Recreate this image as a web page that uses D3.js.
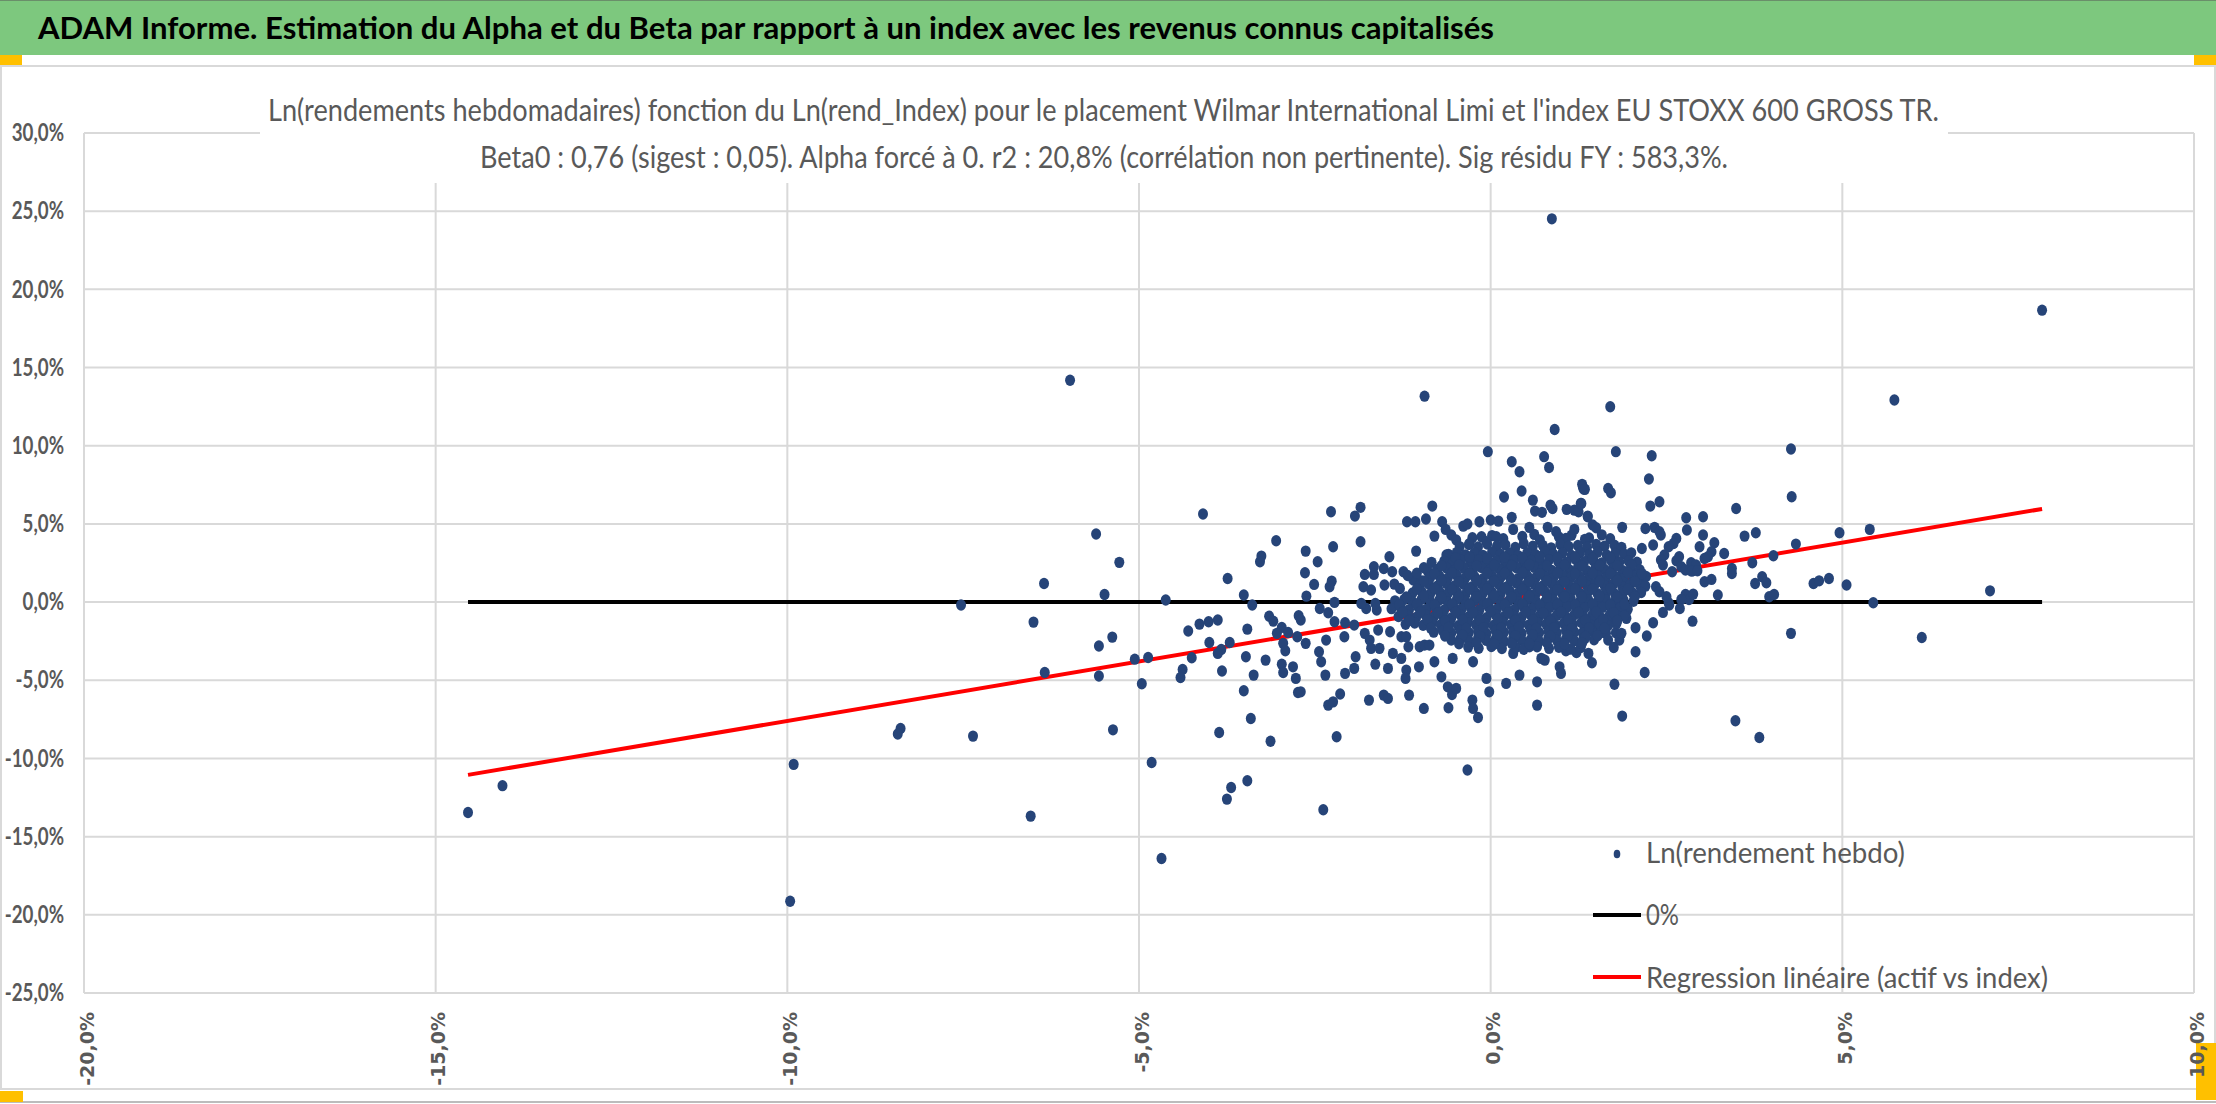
<!DOCTYPE html>
<html><head><meta charset="utf-8">
<script src="https://cdn.jsdelivr.net/npm/d3@7"></script>
<style>html,body{margin:0;padding:0;background:#fff;overflow:hidden}svg{display:block}</style>
</head><body><svg id="c" width="2216" height="1104"></svg>
<script>
// ---------------- DATA ----------------
const pageTitle = "ADAM Informe. Estimation du Alpha et du Beta par rapport à un index avec les revenus connus capitalisés";
const chartTitleLines = [
  "Ln(rendements hebdomadaires) fonction du Ln(rend_Index) pour le placement Wilmar International Limi et l'index EU STOXX 600 GROSS TR.",
  "Beta0 : 0,76 (sigest : 0,05). Alpha forcé à 0. r2 : 20,8% (corrélation non pertinente). Sig résidu FY : 583,3%."
];
const seriesNames = ["Ln(rendement hebdo)", "0%", "Regression linéaire (actif vs index)"];
const xTicks = [-20, -15, -10, -5, 0, 5, 10];
const yTicks = [-25, -20, -15, -10, -5, 0, 5, 10, 15, 20, 25, 30];
const beta0 = 0.76;

// x = Ln(rend_Index) %, y = Ln(rendement hebdo) %
const outlierPoints = [
  [0.87,24.51],[7.84,18.67],[-5.98,14.19],[-0.94,13.17],[5.74,12.92],[1.70,12.49],[0.91,11.04],
  [-14.54,-13.46],[-14.05,-11.74],[-9.91,-10.38],[-9.96,-19.13],[-7.53,-0.19],[-8.39,-8.08],[-8.43,-8.44],[-7.36,-8.57],
  [-4.82,-10.26],[-3.46,-11.43],[-3.69,-11.86],[-3.75,-12.60],[-6.54,-13.69],[-4.68,-16.40],[-2.38,-13.28],[-0.33,-10.74],
  [6.13,-2.26],[7.10,0.72]
];

const scatterPoints = [
  [-4.09,5.63],[-5.61,4.35],[-3.05,3.92],[-5.28,2.54],[-3.26,2.94],[-3.28,2.58],[-6.35,1.19],[-3.74,1.51],[-5.49,0.49],
  [-4.62,0.13],[-3.51,0.45],[-3.39,-0.19],[-2.73,-0.87],[-6.50,-1.28],[-3.15,-0.90],[-3.09,-1.22],[-2.97,-1.62],[-3.04,-2.00],
  [-2.88,-1.94],[-2.75,-2.22],[-4.30,-1.85],[-4.14,-1.41],[-4.01,-1.26],[-3.88,-1.15],[-3.46,-1.73],[-5.38,-2.24],[-5.57,-2.81],
  [-4.00,-2.58],[-3.71,-2.58],[-2.95,-2.64],[-2.92,-3.11],[-3.83,-3.03],[-3.88,-3.28],[-4.25,-3.56],[-4.87,-3.54],[-5.06,-3.65],
  [-3.48,-3.50],[-3.20,-3.71],[-2.97,-3.97],[-2.95,-4.50],[-2.81,-4.14],[-2.77,-4.88],[-2.74,-5.78],[-4.38,-4.31],[-4.41,-4.82],
  [-3.82,-4.41],[-3.37,-4.67],[-6.34,-4.50],[-5.57,-4.73],[-4.96,-5.22],[-3.51,-5.67],[-3.41,-7.44],[-5.37,-8.17],[-3.86,-8.34],
  [-3.13,-8.90],
  [-0.04,9.62],[0.30,8.98],[0.76,9.30],[0.83,8.61],[0.41,8.34],[1.30,7.53],[1.32,7.23],[0.44,7.10],[0.19,6.72],[0.60,6.52],
  [0.63,5.82],[0.73,5.74],[0.85,6.20],[0.88,5.99],[1.08,5.93],[1.19,5.88],[1.28,6.31],[1.25,5.78],[1.38,5.46],[1.45,4.93],
  [-2.27,5.78],[-1.93,5.50],[-1.85,6.06],[-0.83,6.14],[-1.19,5.14],[-1.07,5.14],[-0.92,5.31],[-0.69,5.14],[-0.39,4.86],
  [-0.33,4.99],[-0.16,5.14],[0.00,5.25],[0.11,5.18],[0.30,5.42],[-0.64,4.65],[-0.56,4.29],[-0.80,4.22],
  [-2.63,3.26],[-2.24,3.54],[-1.85,3.86],[-2.46,2.58],[-1.44,2.90],[-1.06,3.26],[-2.64,1.88],[-2.51,1.13],[-2.62,0.38],
  [-2.26,1.34],[-2.29,0.98],[-1.66,2.26],[-1.66,1.77],[-1.79,1.77],[-1.81,0.98],[-1.70,0.77],[-1.52,2.15],[-1.40,1.94],
  [-1.24,1.94],[-1.51,1.09],[-1.37,1.15],[-1.29,0.87],[-1.10,1.41],[-0.98,1.36],[-0.89,1.94],[-0.84,2.54],[-0.63,3.01],
  [-1.18,1.70],[-1.05,1.85],[-0.95,2.20],
  [-2.22,-0.02],[-2.43,-0.41],[-2.31,-0.68],[-2.70,-1.15],[-2.22,-1.26],[-2.63,-2.64],[-2.44,-3.18],[-2.41,-3.82],[-2.34,-2.43],
  [-2.35,-4.67],[-2.07,-1.32],[-2.08,-2.22],[-1.94,-1.47],[-1.92,-3.50],[-1.94,-4.24],[-2.07,-4.56],[-2.70,-5.74],[-2.31,-6.59],
  [-2.24,-6.38],[-2.14,-5.88],[-2.19,-8.61],[-1.73,-6.27],[-1.52,-5.95],[-1.46,-6.16],[-1.77,-0.41],[-1.62,-0.51],[-1.64,-0.09],
  [-1.84,-0.09],[-1.79,-2.00],[-1.72,-2.43],[-1.70,-2.96],[-1.60,-1.79],[-1.58,-2.96],[-1.64,-3.97],[-1.46,-4.24],[-1.43,-1.90],
  [-1.39,-3.28],[-1.27,-2.22],[-1.27,-3.60],[-1.20,-2.22],[-1.17,-2.86],[-1.20,-4.35],[-1.21,-4.88],[-1.16,-5.95],[-1.02,-4.14],
  [-1.01,-2.86],[-0.94,-2.75],[-0.87,-2.75],[-0.80,-3.82],[-0.95,-6.80],[-0.70,-4.78],[-0.61,-5.42],[-0.55,-5.91],[-0.49,-5.52],
  [-0.60,-6.76],[-0.54,-3.60],[-0.25,-3.82],[-0.26,-6.27],[-0.25,-6.80],[-0.18,-7.38],[-0.06,-4.88],[-0.02,-5.74],[0.22,-5.20],
  [0.41,-4.67],[0.66,-5.10],[0.66,-6.59],[0.55,-2.86],[0.72,-3.60],[0.77,-3.71],[0.98,-4.14],[1.00,-4.56],[1.22,-3.22],
  [1.39,-3.28],[1.44,-3.88],[1.34,-2.32],[1.50,-1.36],[1.07,-3.11],[0.32,-3.28],[0.13,-2.43],
  [1.78,9.62],[2.29,9.36],[4.27,9.79],[4.28,6.74],[2.25,7.87],[1.31,7.38],[1.34,7.21],[1.67,7.27],[1.71,6.99],[1.29,6.31],
  [2.27,6.14],[2.40,6.42],[1.38,5.50],[1.50,4.75],[1.87,4.78],[2.20,4.71],[2.33,4.78],[2.40,4.50],[2.42,4.29],[2.78,5.39],
  [3.02,5.46],[2.79,4.61],[3.02,4.29],[3.49,5.99],[3.61,4.22],[3.77,4.43],[2.64,4.07],[2.60,3.75],[2.53,3.54],[2.47,3.01],
  [2.42,2.69],[2.31,3.65],[2.15,3.43],[2.97,3.54],[3.18,3.80],[3.14,3.22],[3.09,2.90],[3.32,3.11],[3.04,2.79],[4.34,3.71],
  [4.02,2.96],[4.96,4.43],[5.39,4.65],[2.68,2.90],[2.64,2.64],[2.85,2.52],[2.92,2.37],[2.71,2.26],[2.77,2.05],[2.86,1.98],
  [2.94,2.00],[2.45,2.37],[2.58,1.94],[3.43,2.15],[3.43,1.83],[3.72,2.52],[3.04,1.30],[3.14,1.45],[3.76,1.19],[3.86,1.62],
  [3.92,1.24],[4.59,1.19],[4.67,1.36],[4.81,1.51],[5.06,1.09],[3.23,0.45],[3.96,0.34],[4.03,0.49],[5.44,-0.04],[2.77,0.49],
  [2.82,0.17],[2.88,0.51],[2.71,0.17],[2.69,-0.41],[2.53,-0.04],[2.54,-0.19],[2.35,0.98],[2.40,0.66],[2.50,0.34],[2.45,-0.66],
  [2.87,-1.22],[2.31,-1.32],[1.92,-0.68],[1.93,-1.04],[2.06,-1.64],[2.22,-2.17],[2.06,-3.18],[2.19,-4.50],[1.76,-5.25],
  [1.87,-7.29],[3.48,-7.59],[3.82,-8.66],[4.27,-2.00],[1.74,-1.26],[1.64,-2.00],[1.67,-2.43],[1.78,-1.96],[1.83,-2.43],
  [1.86,-2.00],[1.75,-2.90],[1.55,-1.26],[1.52,-1.58],[1.35,-1.26],[1.31,-2.00],[1.33,-1.79]
];

const clusterPoints = [
  [-0.26,4.12],[0.02,4.25],[0.18,4.05],[0.45,4.20],[0.62,4.33],[0.97,4.16],[1.15,4.28],[1.40,4.10],[1.58,4.30],[1.70,4.05],
  [-0.13,4.18],[-0.06,3.86],[0.08,4.18],[0.32,4.65],[0.55,4.78],[0.70,3.97],[0.81,4.78],[0.93,4.50],[1.07,4.07],[1.19,4.65],
  [1.34,4.01],[-0.49,3.97],[-0.30,3.75],
  [-0.44,3.55],[-0.31,3.68],[-0.18,3.52],[-0.05,3.71],[0.09,3.58],[0.21,3.66],[0.35,3.49],[0.47,3.74],[0.60,3.57],[0.74,3.63],
  [0.86,3.47],[0.99,3.70],[1.11,3.56],[1.24,3.62],[1.37,3.51],[1.50,3.69],[1.62,3.58],[1.76,3.64],[1.86,3.50],
  [-0.60,3.05],[-0.48,3.18],[-0.36,3.02],[-0.23,3.14],[-0.11,2.99],[0.02,3.20],[0.14,3.06],[0.27,3.12],[0.39,2.97],[0.52,3.16],
  [0.64,3.03],[0.77,3.21],[0.89,3.08],[1.02,3.13],[1.15,2.98],[1.27,3.17],[1.40,3.04],[1.52,3.19],[1.65,3.01],[1.77,3.11],
  [1.90,3.07],[2.00,3.15],
  [-0.66,2.62],[-0.54,2.50],[-0.42,2.68],[-0.29,2.55],[-0.17,2.71],[-0.04,2.58],[0.08,2.64],[0.21,2.49],[0.33,2.70],[0.46,2.57],
  [0.58,2.66],[0.71,2.52],[0.83,2.69],[0.96,2.60],[1.08,2.54],[1.21,2.72],[1.33,2.59],[1.46,2.65],[1.58,2.51],[1.71,2.68],
  [1.83,2.56],[1.96,2.63],[2.08,2.55],
  [-0.76,2.08],[-0.63,2.19],[-0.51,2.03],[-0.38,2.16],[-0.26,2.00],[-0.13,2.21],[-0.01,2.07],[0.12,2.13],[0.24,1.99],[0.37,2.18],
  [0.49,2.05],[0.62,2.22],[0.74,2.09],[0.87,2.02],[0.99,2.17],[1.12,2.06],[1.24,2.20],[1.37,2.01],[1.49,2.14],[1.62,2.08],
  [1.74,2.19],[1.87,2.03],[1.99,2.12],[2.12,2.06],
  [-0.86,1.58],[-0.73,1.66],[-0.61,1.52],[-0.48,1.70],[-0.36,1.55],[-0.23,1.63],[-0.11,1.49],[0.02,1.68],[0.14,1.57],[0.27,1.61],
  [0.39,1.50],[0.52,1.69],[0.64,1.56],[0.77,1.64],[0.89,1.53],[1.02,1.71],[1.14,1.59],[1.27,1.62],[1.39,1.48],[1.52,1.67],
  [1.64,1.55],[1.77,1.63],[1.89,1.51],[2.02,1.69],[2.14,1.58],[2.21,1.64],
  [-1.01,1.08],[-0.88,1.16],[-0.76,1.02],[-0.63,1.19],[-0.51,1.05],[-0.38,1.13],[-0.26,0.99],[-0.13,1.18],[-0.01,1.07],[0.12,1.11],
  [0.24,1.00],[0.37,1.20],[0.49,1.06],[0.62,1.14],[0.74,1.03],[0.87,1.17],[0.99,1.09],[1.12,1.01],[1.24,1.15],[1.37,1.06],
  [1.49,1.19],[1.62,1.04],[1.74,1.12],[1.87,1.00],[1.99,1.16],[2.12,1.08],[2.20,1.02],
  [-1.11,0.58],[-0.98,0.66],[-0.86,0.52],[-0.73,0.69],[-0.61,0.55],[-0.48,0.63],[-0.36,0.49],[-0.23,0.68],[-0.11,0.57],[0.02,0.61],
  [0.14,0.50],[0.27,0.70],[0.39,0.56],[0.52,0.64],[0.64,0.53],[0.77,0.67],[0.89,0.59],[1.02,0.51],[1.14,0.65],[1.27,0.56],
  [1.39,0.69],[1.52,0.54],[1.64,0.62],[1.77,0.50],[1.89,0.66],[2.02,0.58],[2.14,0.61],
  [-1.36,0.08],[-1.23,0.16],[-1.11,0.02],[-0.98,0.19],[-0.86,0.05],[-0.73,0.13],[-0.61,-0.01],[-0.48,0.18],[-0.36,0.07],[-0.23,0.11],
  [-0.11,0.00],[0.02,0.20],[0.14,0.06],[0.27,0.14],[0.39,0.03],[0.52,0.17],[0.64,0.09],[0.77,0.01],[0.89,0.15],[1.02,0.06],
  [1.14,0.19],[1.27,0.04],[1.39,0.12],[1.52,0.00],[1.64,0.16],[1.77,0.08],[1.89,0.13],[2.03,0.05],
  [-1.41,-0.42],[-1.28,-0.34],[-1.16,-0.48],[-1.03,-0.31],[-0.91,-0.45],[-0.78,-0.37],[-0.66,-0.51],[-0.53,-0.32],[-0.41,-0.43],
  [-0.28,-0.39],[-0.16,-0.50],[-0.03,-0.30],[0.09,-0.44],[0.22,-0.36],[0.34,-0.47],[0.47,-0.33],[0.59,-0.41],[0.72,-0.49],
  [0.84,-0.35],[0.97,-0.44],[1.09,-0.31],[1.22,-0.46],[1.34,-0.38],[1.47,-0.50],[1.59,-0.34],[1.72,-0.42],[1.84,-0.37],[1.95,-0.45],
  [-1.31,-0.92],[-1.18,-0.84],[-1.06,-0.98],[-0.93,-0.81],[-0.81,-0.95],[-0.68,-0.87],[-0.56,-1.01],[-0.43,-0.82],[-0.31,-0.93],
  [-0.18,-0.89],[-0.06,-1.00],[0.07,-0.80],[0.19,-0.94],[0.32,-0.86],[0.44,-0.97],[0.57,-0.83],[0.69,-0.91],[0.82,-0.99],
  [0.94,-0.85],[1.07,-0.94],[1.19,-0.81],[1.32,-0.96],[1.44,-0.88],[1.57,-1.00],[1.69,-0.84],[1.82,-0.92],[1.90,-0.87],
  [-1.21,-1.42],[-1.08,-1.34],[-0.96,-1.48],[-0.83,-1.31],[-0.71,-1.45],[-0.58,-1.37],[-0.46,-1.51],[-0.33,-1.32],[-0.21,-1.43],
  [-0.08,-1.39],[0.04,-1.50],[0.17,-1.30],[0.29,-1.44],[0.42,-1.36],[0.54,-1.47],[0.67,-1.33],[0.79,-1.41],[0.92,-1.49],
  [1.04,-1.35],[1.17,-1.44],[1.29,-1.31],[1.42,-1.46],[1.54,-1.38],[1.67,-1.50],[1.79,-1.36],
  [-0.81,-1.92],[-0.68,-1.84],[-0.56,-1.98],[-0.43,-1.81],[-0.31,-1.95],[-0.18,-1.87],[-0.06,-2.01],[0.07,-1.82],[0.19,-1.93],
  [0.32,-1.89],[0.44,-2.00],[0.57,-1.80],[0.69,-1.94],[0.82,-1.86],[0.94,-1.97],[1.07,-1.83],[1.19,-1.91],[1.32,-1.99],
  [1.44,-1.85],[1.57,-1.94],
  [-0.56,-2.42],[-0.43,-2.34],[-0.31,-2.48],[-0.18,-2.31],[-0.06,-2.45],[0.07,-2.37],[0.19,-2.51],[0.32,-2.32],[0.44,-2.43],
  [0.57,-2.39],[0.69,-2.50],[0.82,-2.30],[0.94,-2.44],[1.07,-2.36],[1.19,-2.47],[1.32,-2.33],[1.47,-2.41],
  [-0.32,-2.88],[-0.17,-2.95],[0.01,-2.84],[0.16,-2.97],[0.36,-2.90],[0.47,-3.02],[0.66,-2.86],[0.83,-2.96],[0.97,-2.89],
  [1.14,-3.01],[1.28,-2.91]
];

// extra points filling the gaps of the dense core
const coreFillPoints = [
  [-0.50,2.83],[-0.30,2.88],[-0.05,2.81],[0.20,2.86],[0.45,2.84],[0.70,2.90],[0.95,2.82],[1.20,2.87],[1.45,2.80],[1.70,2.85],
  [-0.70,2.33],[-0.45,2.38],[-0.20,2.31],[0.05,2.36],[0.30,2.34],[0.55,2.40],[0.80,2.32],[1.05,2.37],[1.30,2.30],[1.55,2.35],[1.80,2.33],[2.00,2.38],
  [-0.80,1.83],[-0.55,1.88],[-0.30,1.81],[-0.05,1.86],[0.20,1.84],[0.45,1.90],[0.70,1.82],[0.95,1.87],[1.20,1.80],[1.45,1.85],[1.70,1.83],[1.95,1.88],[2.15,1.82],
  [-0.95,1.33],[-0.70,1.38],[-0.45,1.31],[-0.20,1.36],[0.05,1.34],[0.30,1.40],[0.55,1.32],[0.80,1.37],[1.05,1.30],[1.30,1.35],[1.55,1.33],[1.80,1.38],[2.05,1.32],
  [-1.05,0.83],[-0.80,0.88],[-0.55,0.81],[-0.30,0.86],[-0.05,0.84],[0.20,0.90],[0.45,0.82],[0.70,0.87],[0.95,0.80],[1.20,0.85],[1.45,0.83],[1.70,0.88],[1.95,0.82],
  [-1.20,0.33],[-0.95,0.38],[-0.70,0.31],[-0.45,0.36],[-0.20,0.34],[0.05,0.40],[0.30,0.32],[0.55,0.37],[0.80,0.30],[1.05,0.35],[1.30,0.33],[1.55,0.38],[1.80,0.32],[2.05,0.36],
  [-1.30,-0.17],[-1.05,-0.12],[-0.80,-0.19],[-0.55,-0.14],[-0.30,-0.16],[-0.05,-0.10],[0.20,-0.18],[0.45,-0.13],[0.70,-0.20],[0.95,-0.15],[1.20,-0.17],[1.45,-0.12],[1.70,-0.18],[1.90,-0.14],
  [-1.25,-0.67],[-1.00,-0.62],[-0.75,-0.69],[-0.50,-0.64],[-0.25,-0.66],[0.00,-0.60],[0.25,-0.68],[0.50,-0.63],[0.75,-0.70],[1.00,-0.65],[1.25,-0.67],[1.50,-0.62],[1.75,-0.68],
  [-1.15,-1.17],[-0.90,-1.12],[-0.65,-1.19],[-0.40,-1.14],[-0.15,-1.16],[0.10,-1.10],[0.35,-1.18],[0.60,-1.13],[0.85,-1.20],[1.10,-1.15],[1.35,-1.17],[1.60,-1.12],[1.80,-1.18],
  [-0.85,-1.67],[-0.60,-1.62],[-0.35,-1.69],[-0.10,-1.64],[0.15,-1.66],[0.40,-1.60],[0.65,-1.68],[0.90,-1.63],[1.15,-1.70],[1.40,-1.65],[1.62,-1.67],
  [-0.65,-2.17],[-0.40,-2.12],[-0.15,-2.19],[0.10,-2.14],[0.35,-2.16],[0.60,-2.10],[0.85,-2.18],[1.10,-2.13],[1.35,-2.20],[1.52,-2.15],
  [-0.45,-2.67],[-0.20,-2.62],[0.05,-2.69],[0.30,-2.64],[0.55,-2.66],[0.80,-2.60],[1.05,-2.68],[1.30,-2.63]
];

// ---------------- CHART ----------------
const W = 2216, H = 1104;
const svg = d3.select("#c");
const FONT = "Lato, 'Open Sans', 'Noto Sans', sans-serif";
const GRAY = "#595959";
const allPoints = outlierPoints.concat(scatterPoints, clusterPoints, coreFillPoints);

const x = d3.scaleLinear().domain([-20, 10]).range([84, 2194]);
const y = d3.scaleLinear().domain([-25, 30]).range([993, 133]);

const fr = d3.formatLocale({decimal: ",", thousands: " ", grouping: [3], currency: ["", " €"], minus: "-"});
const pct = v => fr.format(".1f")(v) + "%";

function squeeze(sel, f) {
  sel.each(function () {
    const L = this.getComputedTextLength();
    this.setAttribute("textLength", (L * f).toFixed(1));
    this.setAttribute("lengthAdjust", "spacingAndGlyphs");
  });
}

svg.append("rect").attr("width", W).attr("height", H).attr("fill", "#fff");

// header band
svg.append("rect").attr("x", 0).attr("y", 0).attr("width", W).attr("height", 55).attr("fill", "#7DC87E");
svg.append("line").attr("x1", 0).attr("x2", W).attr("y1", 0.5).attr("y2", 0.5).attr("stroke", "#6a8f6a").attr("stroke-width", 1);
svg.append("text").attr("x", 38).attr("y", 39)
  .attr("font-family", FONT).attr("font-weight", 700).attr("font-size", 30).attr("fill", "#000")
  .attr("textLength", 1456).attr("lengthAdjust", "spacingAndGlyphs")
  .text(pageTitle);

// chart area frame
svg.append("rect").attr("x", 1).attr("y", 66).attr("width", W - 2).attr("height", 1023)
  .attr("fill", "none").attr("stroke", "#d9d9d9").attr("stroke-width", 2);
svg.append("line").attr("x1", 0).attr("x2", W).attr("y1", 1102).attr("y2", 1102).attr("stroke", "#a6a6a6").attr("stroke-width", 1.5);
// selection handles
const handles = [[0, 55, 22, 10], [2194, 55, 22, 10], [0, 1091, 23, 11], [2196, 1043, 20, 57]];
svg.selectAll("rect.h").data(handles).enter().append("rect").attr("class", "h")
  .attr("x", d => d[0]).attr("y", d => d[1]).attr("width", d => d[2]).attr("height", d => d[3]).attr("fill", "#FFC000");

// gridlines
const grid = svg.append("g");
grid.selectAll("line.hy").data(yTicks).enter().append("line").attr("class", "hy")
  .attr("x1", x(-20)).attr("x2", x(10)).attr("y1", d => y(d)).attr("y2", d => y(d))
  .attr("stroke", "#d9d9d9").attr("stroke-width", 2);
grid.selectAll("line.vx").data(xTicks).enter().append("line").attr("class", "vx")
  .attr("x1", d => x(d)).attr("x2", d => x(d)).attr("y1", y(30)).attr("y2", y(-25))
  .attr("stroke", "#d9d9d9").attr("stroke-width", 2);

// y axis labels
const yAxis = svg.append("g").attr("transform", "translate(64,0)")
  .call(d3.axisLeft(y).tickValues(yTicks).tickSize(0).tickPadding(0).tickFormat(pct));
yAxis.select(".domain").remove();
yAxis.selectAll("text").attr("font-family", FONT).attr("font-weight", 700).attr("font-size", 24).attr("fill", GRAY);
squeeze(yAxis.selectAll("text"), 0.78);

// x axis labels (rotated)
svg.append("g").selectAll("text").data(xTicks).enter().append("text")
  .attr("transform", d => `translate(${x(d) + 9.5},1012) rotate(-90)`)
  .attr("text-anchor", "end")
  .attr("font-family", "'DejaVu Sans', Verdana, sans-serif").attr("font-weight", 700)
  .attr("font-size", 19).attr("fill", GRAY)
  .text(pct);

// chart title (white box hides grid)
svg.append("rect").attr("x", 260).attr("y", 84).attr("width", 1688).attr("height", 99).attr("fill", "#fff");
const tl = [[268, 121, 1671], [480, 168, 1248]];
svg.append("g").selectAll("text").data(chartTitleLines).enter().append("text")
  .attr("x", (d, i) => tl[i][0]).attr("y", (d, i) => tl[i][1])
  .attr("textLength", (d, i) => tl[i][2]).attr("lengthAdjust", "spacingAndGlyphs")
  .attr("font-family", FONT).attr("font-size", 30).attr("fill", GRAY)
  .text(d => d);

// lines
const xExt = d3.extent(allPoints, d => d[0]);
const line = d3.line().x(d => x(d[0])).y(d => y(d[1]));
svg.append("path").datum(xExt.map(v => [v, 0])).attr("d", line)
  .attr("stroke", "#000").attr("stroke-width", 4).attr("fill", "none");
svg.append("path").datum(xExt.map(v => [v, beta0 * v])).attr("d", line)
  .attr("stroke", "#FF0000").attr("stroke-width", 4).attr("fill", "none");

// points
svg.append("g").selectAll("ellipse").data(allPoints).enter().append("ellipse")
  .attr("cx", d => x(d[0])).attr("cy", d => y(d[1])).attr("rx", 5).attr("ry", 5.7)
  .attr("fill", "#264478");

// legend
const lg = svg.append("g");
lg.append("ellipse").attr("cx", 1617).attr("cy", 854).attr("rx", 3.3).attr("ry", 4.3).attr("fill", "#264478");
lg.append("line").attr("x1", 1593).attr("x2", 1641).attr("y1", 915).attr("y2", 915).attr("stroke", "#000").attr("stroke-width", 4);
lg.append("line").attr("x1", 1593).attr("x2", 1641).attr("y1", 977).attr("y2", 977).attr("stroke", "#FF0000").attr("stroke-width", 4);
const lgPos = [[863, 259], [925, 33], [988, 402]];
lg.selectAll("text").data(seriesNames).enter().append("text")
  .attr("x", 1646).attr("y", (d, i) => lgPos[i][0])
  .attr("textLength", (d, i) => lgPos[i][1]).attr("lengthAdjust", "spacingAndGlyphs")
  .attr("font-family", FONT).attr("font-size", 29).attr("fill", GRAY)
  .text(d => d);
</script>
</body></html>
